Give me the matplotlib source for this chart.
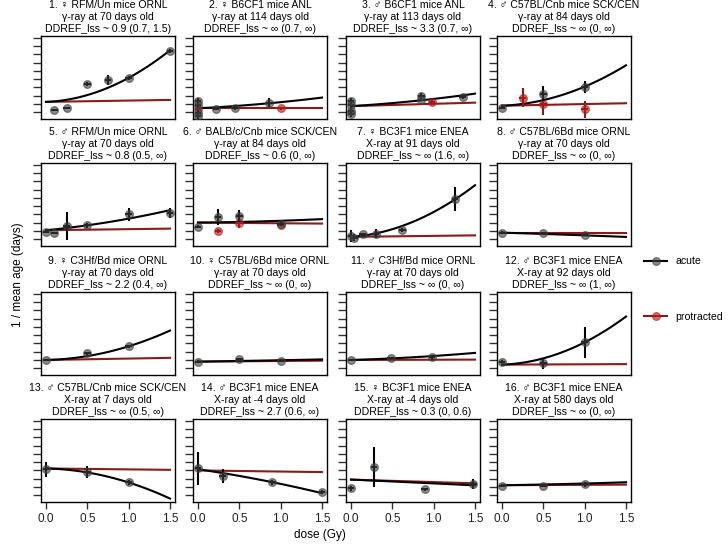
import numpy as np
import matplotlib
matplotlib.use("Agg")
import matplotlib.pyplot as plt
from matplotlib.lines import Line2D
from matplotlib.ticker import MultipleLocator

plt.rcParams["font.family"] = ["Liberation Sans", "DejaVu Sans"]

# panel titles (three lines each)
titles = [
    "1. \u2640 RFM/Un mice ORNL\n\u03b3-ray at 70 days old\nDDREF_lss ~ 0.9 (0.7, 1.5)",
    "2. \u2640 B6CF1 mice ANL\n\u03b3-ray at 114 days old\nDDREF_lss ~ \u221e (0.7, \u221e)",
    "3. \u2642 B6CF1 mice ANL\n\u03b3-ray at 113 days old\nDDREF_lss ~ 3.3 (0.7, \u221e)",
    "4. \u2642 C57BL/Cnb mice SCK/CEN\n\u03b3-ray at 84 days old\nDDREF_lss ~ \u221e (0, \u221e)",
    "5. \u2642 RFM/Un mice ORNL\n\u03b3-ray at 70 days old\nDDREF_lss ~ 0.8 (0.5, \u221e)",
    "6. \u2642 BALB/c/Cnb mice SCK/CEN\n\u03b3-ray at 84 days old\nDDREF_lss ~ 0.6 (0, \u221e)",
    "7. \u2640 BC3F1 mice ENEA\nX-ray at 91 days old\nDDREF_lss ~ \u221e (1.6, \u221e)",
    "8. \u2642 C57BL/6Bd mice ORNL\n\u03b3-ray at 70 days old\nDDREF_lss ~ \u221e (0, \u221e)",
    "9. \u2640 C3Hf/Bd mice ORNL\n\u03b3-ray at 70 days old\nDDREF_lss ~ 2.2 (0.4, \u221e)",
    "10. \u2640 C57BL/6Bd mice ORNL\n\u03b3-ray at 70 days old\nDDREF_lss ~ \u221e (0, \u221e)",
    "11. \u2642 C3Hf/Bd mice ORNL\n\u03b3-ray at 70 days old\nDDREF_lss ~ \u221e (0, \u221e)",
    "12. \u2642 BC3F1 mice ENEA\nX-ray at 92 days old\nDDREF_lss ~ \u221e (1, \u221e)",
    "13. \u2642 C57BL/Cnb mice SCK/CEN\nX-ray at 7 days old\nDDREF_lss ~ \u221e (0.5, \u221e)",
    "14. \u2642 BC3F1 mice ENEA\nX-ray at -4 days old\nDDREF_lss ~ 2.7 (0.6, \u221e)",
    "15. \u2640 BC3F1 mice ENEA\nX-ray at -4 days old\nDDREF_lss ~ 0.3 (0, 0.6)",
    "16. \u2642 BC3F1 mice ENEA\nX-ray at 580 days old\nDDREF_lss ~ \u221e (0, \u221e)",
]

# acute exposure groups: dose (Gy), 1/mean age (arbitrary units), error
acute_dose = [
    [0.1, 0.25, 0.5, 0.75, 1.0, 1.5],
    [0, 0, 0, 0, 0.22, 0.45, 0.86],
    [0, 0, 0, 0, 0.85, 0.85, 1.35],
    [0, 0.5, 1.0],
    [0, 0.1, 0.25, 0.5, 1.0, 1.5],
    [0, 0.24, 0.5, 1.0],
    [0, 0.04, 0.14, 0.3, 0.62, 1.26],
    [0, 0.5, 1.0],
    [0, 0.5, 1.0],
    [0, 0.5, 1.0],
    [0, 0.48, 0.98],
    [0, 0.5, 1.0],
    [0, 0.5, 1.0],
    [0, 0.3, 0.9, 1.5],
    [0, 0.28, 0.89, 1.48],
    [0, 0.5, 1.0],
]
acute_val = [
    [0.29, 0.53, 3.43, 3.92, 4.16, 7.42],
    [1.38, 0.89, -0.07, -0.44, 0.41, 0.49, 1.17],
    [1.38, 0.89, 0.17, -0.2, 1.98, 1.5, 1.86],
    [0.57, 2.26, 3.07],
    [0.89, 0.74, 1.62, 1.70, 3.03, 3.23],
    [1.53, 2.70, 2.83, 1.90],
    [0.41, 0.21, 0.61, 0.69, 1.13, 4.85],
    [0.81, 0.77, 0.53],
    [1.01, 1.81, 2.66],
    [0.81, 1.09, 0.93],
    [1.01, 1.26, 1.33],
    [0.81, 0.60, 3.14],
    [3.12, 2.83, 1.55],
    [3.24, 2.31, 1.58, 0.37],
    [0.86, 3.40, 0.74, 1.34],
    [1.10, 1.10, 1.34],
]
acute_err = [
    [0.15, 0.15, 0.2, 0.6, 0.25, 0.25],
    [0.3, 0.3, 0.3, 0.3, 0.15, 0.15, 0.55],
    [0.4, 0.4, 0.4, 0.4, 0.4, 0.15, 0.2],
    [0.15, 0.9, 0.7],
    [0.15, 0.15, 1.7, 0.3, 0.8, 0.6],
    [0.15, 1.0, 0.7, 0.3],
    [0.7, 0.4, 0.2, 0.5, 0.2, 1.45],
    [0.15, 0.15, 0.15],
    [0.15, 0.15, 0.15],
    [0.15, 0.15, 0.15],
    [0.15, 0.15, 0.3],
    [0.2, 0.7, 1.9],
    [0.87, 0.7, 0.25],
    [2.0, 0.85, 0.3, 0.25],
    [0.3, 2.4, 0.2, 0.6],
    [0.15, 0.15, 0.3],
]

# protracted exposure groups
prot_dose = [[], [0, 1.0], [0.98], [0.25, 0.5, 1.0], [], [0.24, 0.5, 1.0],
             [], [], [], [], [], [], [], [], [], []]
prot_val = [[], [0.41, 0.49], [1.30], [1.78, 0.98, 0.37], [], [1.01, 2.02, 1.75],
            [], [], [], [], [], [], [], [], [], []]
prot_err = [[], [0.3, 0.15], [0.15], [1.1, 1.3, 1.0], [], [0.2, 0.7, 0.2],
            [], [], [], [], [], [], [], [], [], []]

# fitted models: acute a + b*d + c*d^2, protracted a + b*d
acute_fit = [
    (1.26, 0.4, 2.5), (0.49, 0.5, 0.24), (0.75, 0.6, 0.27), (0.8, 0.4, 1.9),
    (1.1, 0.97, 0.43), (2.02, 0.1, 0.12), (0.3, 0.7, 2.3), (0.81, -0.3, -0.03),
    (1.01, 0.22, 1.43), (0.81, 0.15, 0.02), (1.01, 0.3, 0.18), (0.45, 0.34, 2.35),
    (3.24, -0.23, -1.46), (3.15, -1.46, -0.31), (1.9, -0.45, -0.01), (1.22, 0.15, 0.06),
]
prot_fit = [
    (1.26, 0.16), (0.49, 0.0), (0.75, 0.28), (0.8, 0.2),
    (1.1, 0.13), (2.02, -0.08), (0.3, 0.12), (0.81, 0.0),
    (1.01, 0.17), (0.81, 0.08), (1.01, 0.03), (0.45, 0.04),
    (3.24, -0.11), (3.0, -0.13), (1.9, -0.3), (1.22, 0.05),
]

fig = plt.figure(figsize=(7.28, 5.52), dpi=100)
W, H = 728, 552
lefts = [41, 193, 346, 497]
tops = [36, 163, 292, 419]
aw, ah = 134, 83

dark_red = "#8b1a1a"
d = np.linspace(0, 1.5, 100)

for i in range(16):
    r, c = divmod(i, 4)
    ax = fig.add_axes([lefts[c] / W, 1 - (tops[r] + ah) / H, aw / W, ah / H])
    a, b, q = acute_fit[i]
    pa, pb = prot_fit[i]
    ax.plot(d, pa + pb * d, color=dark_red, lw=1.5, zorder=2)
    ax.plot(d, a + b * d + q * d ** 2, color="black", lw=1.5, zorder=3)
    if prot_dose[i]:
        ax.errorbar(prot_dose[i], prot_val[i], yerr=prot_err[i], xerr=0.04,
                    fmt="o", ms=5.5, mfc=(0.7, 0.1, 0.1, 0.6), mec=(0.7, 0.1, 0.1, 0.6),
                    ecolor=dark_red, elinewidth=1.5, capsize=0, zorder=4)
    ax.errorbar(acute_dose[i], acute_val[i], yerr=acute_err[i], xerr=0.04,
                fmt="o", ms=5.5, mfc=(0.25, 0.25, 0.25, 0.6), mec=(0.25, 0.25, 0.25, 0.6),
                ecolor="black", elinewidth=1.5, capsize=0, zorder=5)
    ax.set_xlim(-0.06, 1.56)
    ax.set_ylim(-0.8, 9.2)
    ax.yaxis.set_major_locator(MultipleLocator(1))
    ax.tick_params(axis="y", direction="out", length=6, width=1, labelleft=False,
                   color="#333333")
    if r == 3:
        ax.set_xticks([0, 0.5, 1.0, 1.5])
        ax.set_xticklabels(["0.0", "0.5", "1.0", "1.5"])
        ax.tick_params(axis="x", direction="out", length=5, width=1, labelsize=8.5,
                       pad=3, color="#333333", labelcolor="#222222")
    else:
        ax.set_xticks([])
    for s in ax.spines.values():
        s.set_linewidth(1)
    ax.set_title(titles[i], fontsize=7.6, linespacing=1.22, pad=3)

fig.text(320 / W, 1 - 535 / H, "dose (Gy)", ha="center", va="center", fontsize=8.5)
fig.text(18 / W, 1 - 275 / H, "1 / mean age (days)", ha="center", va="center",
         rotation=90, fontsize=8.5)

handles = [
    Line2D([], [], color="black", lw=1.5, marker="o", ms=5.5,
           mfc=(0.25, 0.25, 0.25, 0.6), mec=(0.25, 0.25, 0.25, 0.6)),
    Line2D([], [], color=dark_red, lw=1.5, marker="o", ms=5.5,
           mfc=(0.7, 0.1, 0.1, 0.6), mec=(0.7, 0.1, 0.1, 0.6)),
]
fig.legend(handles, ["acute", "protracted"], loc="center left",
           bbox_to_anchor=(644 / W, 1 - 289 / H), frameon=False, fontsize=7.6,
           labelspacing=4.3, handlelength=2.2, handletextpad=0.8, borderpad=0,
           borderaxespad=0)

fig.savefig("out.png", dpi=100)
